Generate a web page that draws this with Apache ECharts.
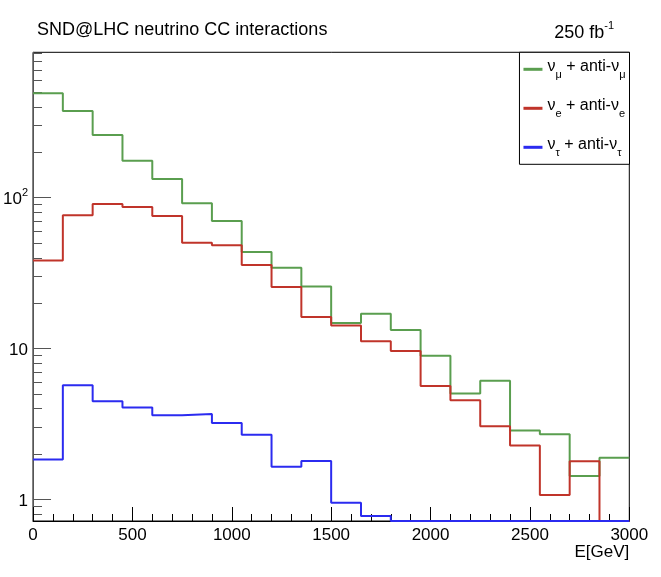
<!DOCTYPE html>
<html>
<head>
<meta charset="utf-8">
<script src="https://cdn.jsdelivr.net/npm/echarts@6/dist/echarts.min.js"></script>
<style>
  html, body { margin: 0; padding: 0; background: #fff; }
  #main { width: 661px; height: 577px; }
</style>
</head>
<body>
<div id="main"></div>
<script>
// 数据：每个 bin 的下边界 (GeV) 和三种中微子的事例数
var binLow = [0, 150, 300, 450, 600, 750, 900, 1050, 1200, 1350,
              1500, 1650, 1800, 1950, 2100, 2250, 2400, 2550, 2700, 2850];
var xMax = 3000;

var numu  = [492, 376, 260, 176, 133, 91.8, 70.0, 43.6, 34.3, 25.8,
             14.8, 17.0, 13.3, 8.95, 5.03, 6.12, 2.87, 2.71, 1.43, 1.89];
var nue   = [38.4, 76.4, 90.8, 86.7, 75.6, 50.3, 48.5, 35.8, 25.6, 16.2,
             14.2, 11.2, 9.64, 5.64, 4.55, 3.06, 2.28, 1.07, 1.79, 0];
var nutau = [1.84, 5.71, 4.48, 4.07, 3.61, 3.68, 3.21, 2.69, 1.65, 1.80,
             0.95, 0.776, 0, 0, 0, 0, 0, 0, 0, 0];

var yMin = 0.72, yMax = 920;
var yMajor = [1, 10, 100];
var yMinor = [0.8, 0.9, 2, 3, 4, 5, 6, 7, 8, 9, 20, 30, 40, 50, 60, 70, 80, 90,
              200, 300, 400, 500, 600, 700, 800, 900];

var names = ['νμ + anti-νμ', 'νe + anti-νe', 'ντ + anti-ντ'];
var legendRich = {
    'νμ + anti-νμ': '{n|ν}{s|μ}{n| + anti-ν}{s|μ}',
    'νe + anti-νe': '{n|ν}{s|e}{n| + anti-ν}{s|e}',
    'ντ + anti-ντ': '{n|ν}{s|τ}{n| + anti-ν}{s|τ}'
};
var colors = ['#5a9e4f', '#c0342a', '#2b2bf0'];

var font = 'Liberation Sans';

// 直方图：每个 bin 画成阶梯，0 的 bin 落在坐标轴最下方
function histData(vals) {
    var pts = binLow.map(function (x, i) {
        return [x, vals[i] > 0 ? vals[i] : yMin];
    });
    var last = vals[vals.length - 1];
    pts.push([xMax, last > 0 ? last : yMin]);
    return pts;
}

var myChart = echarts.init(document.getElementById('main'));

var option = {
    animation: false,
    backgroundColor: '#fff',
    title: [
        {
            text: 'SND@LHC neutrino CC interactions',
            left: 32, top: 16,
            textStyle: { fontFamily: font, fontSize: 18, fontWeight: 'normal', color: '#000' }
        },
        {
            text: '{n|250 fb}{p|-1}',
            right: 42, top: 15,
            textStyle: {
                fontWeight: 'normal',
                rich: {
                    n: { fontFamily: font, fontSize: 18, fontWeight: 'normal', color: '#000', lineHeight: 22, verticalAlign: 'bottom' },
                    p: { fontFamily: font, fontSize: 11, fontWeight: 'normal', color: '#000', lineHeight: 14, verticalAlign: 'top' }
                }
            }
        }
    ],
    legend: {
        orient: 'vertical',
        right: 31.5, top: 52.3,
        data: names,
        icon: 'rect',
        itemWidth: 19,
        itemHeight: 3,
        itemGap: 17,
        padding: [6, 4, 6, 4],
        borderColor: '#000',
        borderWidth: 1,
        backgroundColor: '#fff',
        formatter: function (name) { return legendRich[name]; },
        textStyle: {
            rich: {
                n: { fontFamily: font, fontSize: 16, color: '#000', lineHeight: 22, verticalAlign: 'top' },
                s: { fontFamily: font, fontSize: 11, color: '#000', lineHeight: 13, verticalAlign: 'bottom' }
            }
        }
    },
    grid: {
        left: 30, right: 31.7, top: 52.3, bottom: 56,
        show: true, borderColor: '#000', borderWidth: 1
    },
    xAxis: {
        type: 'value',
        min: 0, max: xMax, interval: 500,
        name: 'E[GeV]',
        nameLocation: 'end',
        nameGap: 0,
        nameTextStyle: {
            fontFamily: font, fontSize: 17, color: '#000',
            align: 'right', verticalAlign: 'top', padding: [23, 0, 0, 0]
        },
        axisLine: { lineStyle: { color: '#000', width: 1 } },
        axisTick: { inside: true, length: 14, lineStyle: { color: '#000' } },
        minorTick: { show: true, splitNumber: 5, length: 7, lineStyle: { color: '#000' } },
        splitLine: { show: false },
        axisLabel: {
            fontFamily: font, fontSize: 17, color: '#000', margin: 6,
            formatter: function (v) { return String(v); }
        }
    },
    yAxis: [
        {
            type: 'log',
            min: yMin, max: yMax,
            axisLine: { show: true, lineStyle: { color: '#555', width: 1 } },
            axisTick: { inside: true, length: 18, customValues: yMajor, lineStyle: { color: '#555' } },
            splitLine: { show: false },
            axisLabel: {
                customValues: yMajor,
                margin: 5,
                formatter: function (v) {
                    if (v >= 99) return '{b|10}{p|2}';
                    return '{b|' + Math.round(v) + '}';
                },
                rich: {
                    b: { fontFamily: font, fontSize: 17, color: '#000', lineHeight: 20, verticalAlign: 'bottom' },
                    p: { fontFamily: font, fontSize: 11, color: '#000', lineHeight: 12, verticalAlign: 'top' }
                }
            }
        },
        {
            type: 'log',
            min: yMin, max: yMax,
            position: 'left',
            axisLine: { show: false },
            axisTick: { show: true, inside: true, length: 9, customValues: yMinor, lineStyle: { color: '#555' } },
            splitLine: { show: false },
            axisLabel: { show: false }
        }
    ],
    series: [
        {
            name: names[0],
            type: 'line',
            step: 'end',
            symbol: 'none',
            data: histData(numu),
            lineStyle: { color: colors[0], width: 2 },
            itemStyle: { color: colors[0] }
        },
        {
            name: names[1],
            type: 'line',
            step: 'end',
            symbol: 'none',
            data: histData(nue),
            lineStyle: { color: colors[1], width: 2 },
            itemStyle: { color: colors[1] }
        },
        {
            name: names[2],
            type: 'line',
            step: 'end',
            symbol: 'none',
            data: histData(nutau),
            lineStyle: { color: colors[2], width: 2 },
            itemStyle: { color: colors[2] }
        }
    ]
};

myChart.setOption(option);
</script>
</body>
</html>
